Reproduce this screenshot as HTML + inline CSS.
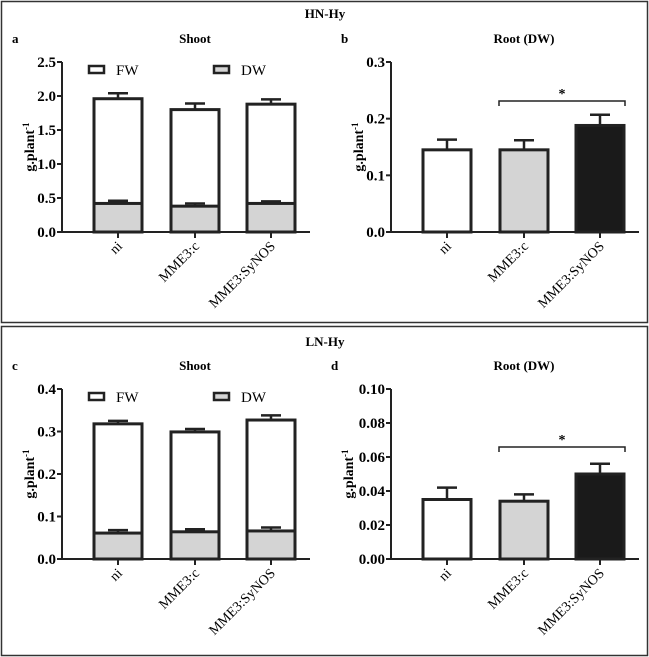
<!DOCTYPE html>
<html><head><meta charset="utf-8"><style>
html,body{margin:0;padding:0;background:#fff}
svg, svg text{font-family:"Liberation Serif",serif}
svg{display:block}
</style></head><body>
<svg id="s" width="649" height="657" viewBox="0 0 649 657" font-family="Liberation Serif, serif">
<rect x="1.5" y="1.5" width="646" height="321" fill="none" stroke="#333" stroke-width="1.5"/>
<rect x="1.5" y="326.5" width="646" height="329" fill="none" stroke="#333" stroke-width="1.5"/>
<text x="325" y="18" text-anchor="middle" font-weight="bold" font-size="13" font-family="Liberation Serif, serif">HN-Hy</text>
<text x="325" y="346" text-anchor="middle" font-weight="bold" font-size="13" font-family="Liberation Serif, serif">LN-Hy</text>
</svg>
<script>
const categories=["ni","MME3:c","MME3:SyNOS"];
const aFW=[1.96,1.80,1.88], aFWerr=[0.08,0.09,0.07];
const aDW=[0.42,0.38,0.42], aDWerr=[0.04,0.04,0.03];
const aTicks=["0.0","0.5","1.0","1.5","2.0","2.5"];
const bVal=[0.145,0.145,0.188], bErr=[0.018,0.017,0.019];
const bTicks=["0.0","0.1","0.2","0.3"];
const cFW=[0.318,0.299,0.327], cFWerr=[0.007,0.007,0.011];
const cDW=[0.061,0.064,0.066], cDWerr=[0.007,0.006,0.008];
const cTicks=["0.0","0.1","0.2","0.3","0.4"];
const dVal=[0.035,0.034,0.050], dErr=[0.007,0.004,0.006];
const dTicks=["0.00","0.02","0.04","0.06","0.08","0.10"];
const NS="http://www.w3.org/2000/svg", svg=document.getElementById("s");
function el(t,a,txt){const e=document.createElementNS(NS,t);for(const k in a)e.setAttribute(k,a[k]);if(t==="text")e.setAttribute("font-family","Liberation Serif, serif");if(txt!==undefined)e.textContent=txt;svg.appendChild(e);return e;}
function panel(p){
 const max=parseFloat(p.ticks[p.ticks.length-1]);
 const y=v=>p.y0-(v/max)*(p.y0-p.y1);
 const xs=[p.x0+56,p.x0+133,p.x0+209], bw=48;
 let e=el("text",{x:p.x0-50-p.yo,y:p.y1-19,"font-weight":"bold","font-size":"13"},p.letter);
 
 e=el("text",{x:p.x0+133,y:p.y1-19,"text-anchor":"middle","font-weight":"bold","font-size":"13"},p.title);
 
 e=el("text",{transform:`translate(${p.x0-28-p.yo},${(p.y0+p.y1)/2}) rotate(-90)`,"text-anchor":"middle","font-weight":"bold","font-size":"14"});
 
 e.innerHTML='g.plant<tspan dy="-5" font-size="9">-1</tspan>';
 p.ticks.forEach(t=>{const yy=y(parseFloat(t));
  let l=el("line",{x1:p.x0-5,x2:p.x0,y1:yy,y2:yy,stroke:"#222","stroke-width":2});
  
  let tx=el("text",{x:p.x0-6,y:yy+5,"text-anchor":"end","font-weight":"bold","font-size":"15"},t);
  });
 const bar=(i,top,err,name)=>{
  let r=el("line",{x1:xs[i],x2:xs[i],y1:y(top),y2:y(top+err),stroke:"#222","stroke-width":2.5});
  
  r=el("line",{x1:xs[i]-10,x2:xs[i]+10,y1:y(top+err),y2:y(top+err),stroke:"#222","stroke-width":2.5});
  
 };
 categories.forEach((c,i)=>{
  if(p.fw){
   bar(i,p.fw[i],p.fwe[i],'fw');
   let r=el("rect",{x:xs[i]-bw/2,y:y(p.fw[i]),width:bw,height:y(0)-y(p.fw[i]),fill:"#fff",stroke:"#222","stroke-width":3});
   
   r=el("rect",{x:xs[i]-bw/2,y:y(p.dw[i]),width:bw,height:y(0)-y(p.dw[i]),fill:"#d4d4d4",stroke:"#222","stroke-width":3});
   
   bar(i,p.dw[i],p.dwe[i],'dw');
  } else {
   bar(i,p.v[i],p.e[i],'bar');
   let r=el("rect",{x:xs[i]-bw/2,y:y(p.v[i]),width:bw,height:y(0)-y(p.v[i]),fill:["#fff","#d4d4d4","#1a1a1a"][i],stroke:"#222","stroke-width":3});
   
  }
  let t=el("line",{x1:xs[i],x2:xs[i],y1:p.y0,y2:p.y0+6,stroke:"#222","stroke-width":2});
  
  let tx=el("text",{transform:`translate(${xs[i]+5},${p.y0+15}) rotate(-45)`,"text-anchor":"end","font-size":"14"},c);
  
 });
 let ax=el("line",{x1:p.x0,x2:p.x0,y1:p.y1,y2:p.y0,stroke:"#222","stroke-width":2});
 
 ax=el("line",{x1:p.x0,x2:p.x0+248,y1:p.y0,y2:p.y0,stroke:"#222","stroke-width":2});
 
 if(p.fw){
  [["FW","#fff",27],["DW","#d4d4d4",152]].forEach(([n,f,dx])=>{
   let r=el("rect",{x:p.x0+dx,y:p.y1+4,width:15,height:7,fill:f,stroke:"#222","stroke-width":2.5});
   
   let t=el("text",{x:p.x0+dx+27,y:p.y1+13,"font-size":"15"},n);
   
  });
 } else {
  const by=p.y1+p.brk;
  let b=el("path",{d:`M${xs[1]-25},${by+5}V${by}H${xs[2]+25}V${by+5}`,fill:"none",stroke:"#222","stroke-width":1.5});
  
  b=el("text",{x:(xs[1]+xs[2])/2,y:by-3,"text-anchor":"middle","font-size":"14","font-weight":"bold"},"*");
  
 }
}
panel({x0:62,y0:232,y1:62,yo:0,letter:"a",title:"Shoot",ticks:aTicks,fw:aFW,fwe:aFWerr,dw:aDW,dwe:aDWerr});
panel({x0:391,y0:232,y1:62,yo:0,letter:"b",title:"Root (DW)",ticks:bTicks,v:bVal,e:bErr,brk:39});
panel({x0:62,y0:559,y1:389,yo:0,letter:"c",title:"Shoot",ticks:cTicks,fw:cFW,fwe:cFWerr,dw:cDW,dwe:cDWerr});
panel({x0:391,y0:559,y1:389,yo:10,letter:"d",title:"Root (DW)",ticks:dTicks,v:dVal,e:dErr,brk:58});
</script>
</body></html>
